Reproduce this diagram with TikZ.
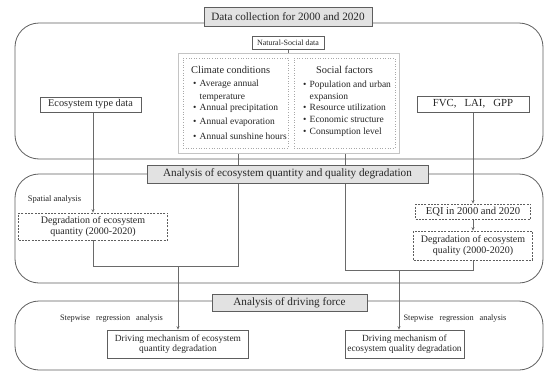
\documentclass[tikz,border=0pt]{standalone}
\usepackage{fontspec}
\setmainfont{Liberation Serif}
\usetikzlibrary{arrows.meta}
\definecolor{ln}{HTML}{5E5E5E}
\definecolor{cn}{HTML}{6A6A6A}
\definecolor{ttlfill}{HTML}{E2E2E2}
\definecolor{lgray}{HTML}{C4C4C4}
\definecolor{dgray}{HTML}{A8A8A8}
\definecolor{txt}{HTML}{262626}
\pgfdeclarelayer{background}
\pgfsetlayers{background,main}
\begin{document}
\begin{tikzpicture}[x=1pt,y=-1pt,
  every node/.style={text=txt, inner sep=0pt, align=center},
  bigframe/.style={draw=ln, line width=0.8pt, rounded corners=24pt},
  ttl/.style={draw=ln, fill=ttlfill, line width=0.7pt, font=\fontsize{11.2}{13}\selectfont},
  sbox/.style={draw=ln, fill=white, line width=0.7pt, font=\fontsize{10.3}{11}\selectfont},
  dbox/.style={draw=ln, fill=white, line width=0.7pt, dash pattern=on 2pt off 1.3pt, font=\fontsize{10}{11}\selectfont},
  conn/.style={draw=cn, line width=0.6pt},
  arr/.style={conn, -{Stealth[length=3.5pt,width=3pt]}},
  small/.style={font=\fontsize{8.3}{9}\selectfont},
  hd/.style={font=\fontsize{10.4}{12}\selectfont},
  bl/.style={anchor=base west, font=\fontsize{9.5}{11}\selectfont}]

\begin{pgfonlayer}{background}
\useasboundingbox (0,0) rectangle (550,378);
\fill[white] (0,0) rectangle (550,378);
\end{pgfonlayer}

% big rounded frames
\node[bigframe, minimum width=528pt, minimum height=136pt] (r1) at (279,91) {};
\node[bigframe, minimum width=528pt, minimum height=109pt] (r2) at (279,228.5) {};
\node[bigframe, minimum width=528pt, minimum height=69pt] (r3) at (279,335.5) {};

% titles
\node[ttl, minimum width=168pt, minimum height=19pt] (t1) at (288,17) {Data collection for 2000 and 2020};
\node[ttl, minimum width=281pt, minimum height=18pt] (t2) at (287.5,174) {Analysis of ecosystem quantity and quality degradation};
\node[ttl, minimum width=155pt, minimum height=17pt] (t3) at (289.5,303) {Analysis of driving force};

% natural-social block
\node[draw=ln, line width=0.6pt, fill=white, font=\fontsize{8}{9}\selectfont, minimum width=72pt, minimum height=13pt] (ns) at (288,42.5) {Natural-Social data};
\node[draw=lgray, line width=0.9pt, minimum width=221pt, minimum height=100pt] (fr) at (288.5,103) {};
\node[draw=dgray, dotted, line width=0.6pt, minimum width=105pt, minimum height=90pt] (cl) at (235.5,103) {};
\node[draw=dgray, dotted, line width=0.6pt, minimum width=101pt, minimum height=90pt] (sc) at (344.5,103) {};

\node[hd, anchor=base west] (clh) at (191,73.5) {Climate conditions};
\node[bl] (c1) at (193,86.5) {\makebox[6.5pt][l]{\textbullet}Average annual};
\node[bl] (c1b) at (199.5,99) {temperature};
\node[bl] (c2) at (193,110.5) {\makebox[6.5pt][l]{\textbullet}Annual precipitation};
\node[bl] (c3) at (193,124.5) {\makebox[6.5pt][l]{\textbullet}Annual evaporation};
\node[bl] (c4) at (193,139.5) {\makebox[6.5pt][l]{\textbullet}Annual sunshine hours};

\node[hd, anchor=base] (sch) at (344.5,73.5) {Social factors};
\node[bl] (s1) at (303,87) {\makebox[6.5pt][l]{\textbullet}Population and urban};
\node[bl] (s1b) at (309.5,99) {expansion};
\node[bl] (s2) at (303,110.5) {\makebox[6.5pt][l]{\textbullet}Resource utilization};
\node[bl] (s3) at (303,122.5) {\makebox[6.5pt][l]{\textbullet}Economic structure};
\node[bl] (s4) at (303,134.5) {\makebox[6.5pt][l]{\textbullet}Consumption level};

% side inputs
\node[sbox, minimum width=101pt, minimum height=15pt] (eco) at (90.5,104.5) {Ecosystem type data};
\node[sbox, minimum width=112pt, minimum height=16pt, font=\fontsize{10.8}{12}\selectfont] (fvc) at (473,104) {FVC,\hspace{0.75em}LAI,\hspace{0.75em}GPP};

% middle section
\node[font=\fontsize{8.5}{9}\selectfont] (sp) at (54.5,199) {Spatial analysis};
\node[dbox, minimum width=149pt, minimum height=27pt] (deg1) at (93,226.5) {Degradation of ecosystem\\quantity (2000-2020)};
\node[dbox, minimum width=115pt, minimum height=15pt, font=\fontsize{10.6}{12}\selectfont] (eqi) at (473,211.5) {EQI in 2000 and 2020};
\node[dbox, minimum width=119pt, minimum height=29pt] (deg2) at (473,245.5) {Degradation of ecosystem\\quality (2000-2020)};

% bottom section
\node[small] (sw1) at (111.5,319) {Stepwise\hspace{6pt}regression\hspace{6pt}analysis};
\node[small] (sw2) at (455,319) {Stepwise\hspace{6pt}regression\hspace{6pt}analysis};
\node[sbox, minimum width=141pt, minimum height=28pt, font=\fontsize{9.4}{10.5}\selectfont] (drv1) at (178,344) {Driving mechanism of ecosystem\\quantity degradation};
\node[sbox, minimum width=119pt, minimum height=28pt, font=\fontsize{9.4}{10.5}\selectfont] (drv2) at (404.5,344) {Driving mechanism of\\ecosystem quality degradation};

\coordinate (j1) at (238,266);
\coordinate (j2) at (345,270);
\coordinate (a1) at (178,266);
\coordinate (a2) at (399,270);

\begin{pgfonlayer}{background}
\draw[conn] (ns.south) -- (ns.south |- fr.north);
\draw[arr] (deg1.north |- eco.south) -- (deg1.north);
\draw[arr] (fvc.south) -- (eqi.north);
\draw[arr] (eqi.south) -- (deg2.north);
\draw[conn] (deg1.south) |- (j1) -- (j1 |- fr.south);
\draw[conn] (deg2.south) |- (j2) -- (j2 |- fr.south);
\draw[arr] (a1) -- (a1 |- drv1.north);
\draw[arr] (a2) -- (a2 |- drv2.north);
\end{pgfonlayer}
\end{tikzpicture}
\end{document}
